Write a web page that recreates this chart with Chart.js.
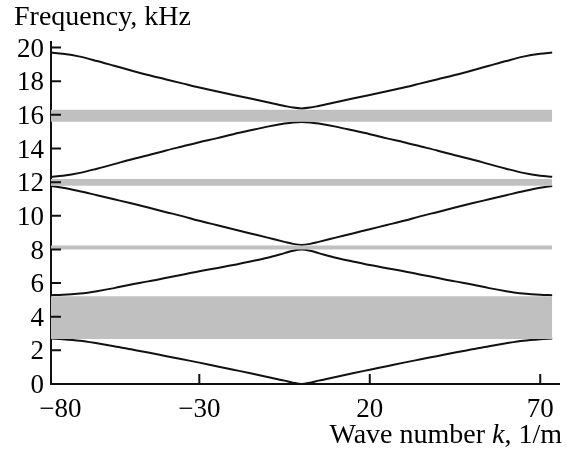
<!DOCTYPE html>
<html><head><meta charset="utf-8">
<script src="https://cdn.jsdelivr.net/npm/chart.js@4.4.1/dist/chart.umd.min.js"></script>
<style>html,body{margin:0;padding:0;background:#fff;}#wrap{width:567px;height:455px;}</style>
</head><body><div id="wrap"><canvas id="c" width="567" height="455"></canvas></div>
<script>
// Wave number k (1/m)
const kValues = [-73.5,-70,-65,-60,-55,-50,-45,-40,-35,-30,-25,-20,-15,-10,-5,-2.5,0,2.5,5,10,15,20,25,30,35,40,45,50,55,60,65,70,73.5];
// Frequency branches (kHz)
const band1 = [2.70,2.66,2.57,2.42,2.25,2.06,1.87,1.67,1.47,1.27,1.06,0.85,0.64,0.42,0.20,0.08,0.00,0.08,0.20,0.42,0.64,0.85,1.06,1.27,1.47,1.67,1.87,2.06,2.25,2.42,2.57,2.66,2.70];
const band2 = [5.28,5.30,5.38,5.52,5.70,5.92,6.10,6.30,6.50,6.70,6.88,7.07,7.28,7.50,7.78,7.92,7.99,7.92,7.78,7.50,7.28,7.07,6.88,6.70,6.50,6.30,6.10,5.92,5.70,5.52,5.38,5.30,5.28];
const band3 = [11.77,11.67,11.46,11.22,10.98,10.74,10.49,10.23,9.98,9.70,9.45,9.20,8.95,8.70,8.45,8.33,8.27,8.33,8.45,8.70,8.95,9.20,9.45,9.70,9.98,10.23,10.49,10.74,10.98,11.22,11.46,11.67,11.77];
const band4 = [12.32,12.38,12.55,12.80,13.07,13.35,13.60,13.87,14.12,14.37,14.60,14.85,15.08,15.30,15.48,15.55,15.58,15.55,15.48,15.30,15.08,14.85,14.60,14.37,14.12,13.87,13.60,13.35,13.07,12.80,12.55,12.38,12.32];
const band5 = [19.70,19.63,19.46,19.20,18.92,18.64,18.37,18.12,17.87,17.62,17.40,17.18,16.97,16.75,16.53,16.43,16.38,16.43,16.53,16.75,16.97,17.18,17.40,17.62,17.87,18.12,18.37,18.64,18.92,19.20,19.46,19.63,19.70];
// Band gaps (kHz)
const gapLow  = [2.68, 7.99, 11.79, 15.59];
const gapHigh = [5.22, 8.24, 12.19, 16.31];
const gapK = [-73.5, 73.5];
// Axes
const xTickValues = [-73.5, -30, 20, 70];
const xTickLabels = ['\u2002\u2009\u221280', '\u221230', '20', '70'];
const yTickValues = [0,2,4,6,8,10,12,14,16,18,20];
const yTickLabels = ['0','2','4','6','8','10','12','14','16','18','20'];
const yTitle = 'Frequency, kHz';
const xTitleParts = [['Wave number ', false], ['k', true], [', 1/m', false]];

const FONT = '"Liberation Serif", "DejaVu Serif", serif';
const datasets = [];
gapLow.forEach((lo, i) => {
  datasets.push({data: gapK.map(k => ({x:k, y:lo})), borderWidth:0, pointRadius:0, fill:false});
  datasets.push({data: gapK.map(k => ({x:k, y:gapHigh[i]})), borderWidth:0, pointRadius:0, fill:'-1', backgroundColor:'#c0c0c0'});
});
[band1, band2, band3, band4, band5].forEach(b => {
  datasets.push({data: kValues.map((k, j) => ({x:k, y:b[j]})), borderColor:'#111', borderWidth:2, pointRadius:0, fill:false, cubicInterpolationMode:'monotone'});
});

const decor = {
  id: 'decor',
  afterDraw(chart) {
    const ctx = chart.ctx, xs = chart.scales.x, ys = chart.scales.y;
    ctx.save();
    ctx.strokeStyle = '#111'; ctx.lineWidth = 2; ctx.beginPath();
    xTickValues.forEach(v => { const p = xs.getPixelForValue(v); ctx.moveTo(p, ys.bottom); ctx.lineTo(p, ys.bottom - 10); });
    yTickValues.forEach(v => { const p = ys.getPixelForValue(v); ctx.moveTo(xs.left, p); ctx.lineTo(xs.left + 10, p); });
    ctx.stroke();
    ctx.fillStyle = '#000'; ctx.textBaseline = 'alphabetic'; ctx.textAlign = 'left';
    ctx.font = '28px ' + FONT;
    ctx.fillText(yTitle, 14, 25);
    let total = 0;
    xTitleParts.forEach(([t, it]) => { ctx.font = (it ? 'italic ' : '') + '28px ' + FONT; total += ctx.measureText(t).width; });
    let x = chart.width - 5 - total;
    xTitleParts.forEach(([t, it]) => { ctx.font = (it ? 'italic ' : '') + '28px ' + FONT; ctx.fillText(t, x, 443); x += ctx.measureText(t).width; });
    ctx.restore();
  }
};

new Chart(document.getElementById('c'), {
  type: 'line',
  data: {datasets},
  options: {
    responsive:false, animation:false, devicePixelRatio:1,
    layout:{padding:{left:0, right:8, top:42, bottom:0}},
    plugins:{legend:{display:false}, tooltip:{enabled:false}, title:{display:false}},
    scales:{
      x:{type:'linear', min:-73.5, max:75.5,
        grid:{display:false, drawTicks:false},
        border:{display:true, color:'#111', width:2},
        afterBuildTicks: s => { s.ticks = xTickValues.map(v => ({value:v})); },
        ticks:{color:'#000', font:{family:FONT, size:27}, padding:10, maxRotation:0, autoSkip:false,
          callback:(v, i) => xTickLabels[i]},
        afterFit: s => { s.height = 71; }
      },
      y:{type:'linear', min:0, max:20.33,
        grid:{display:false, drawTicks:false},
        border:{display:true, color:'#111', width:2},
        afterBuildTicks: s => { s.ticks = yTickValues.map(v => ({value:v})); },
        ticks:{color:'#000', font:{family:FONT, size:27}, padding:7, labelOffset:2, autoSkip:false,
          callback:(v, i) => yTickLabels[i]},
        afterFit: s => { s.width = 51; }
      }
    }
  },
  plugins:[decor]
});
</script></body></html>
